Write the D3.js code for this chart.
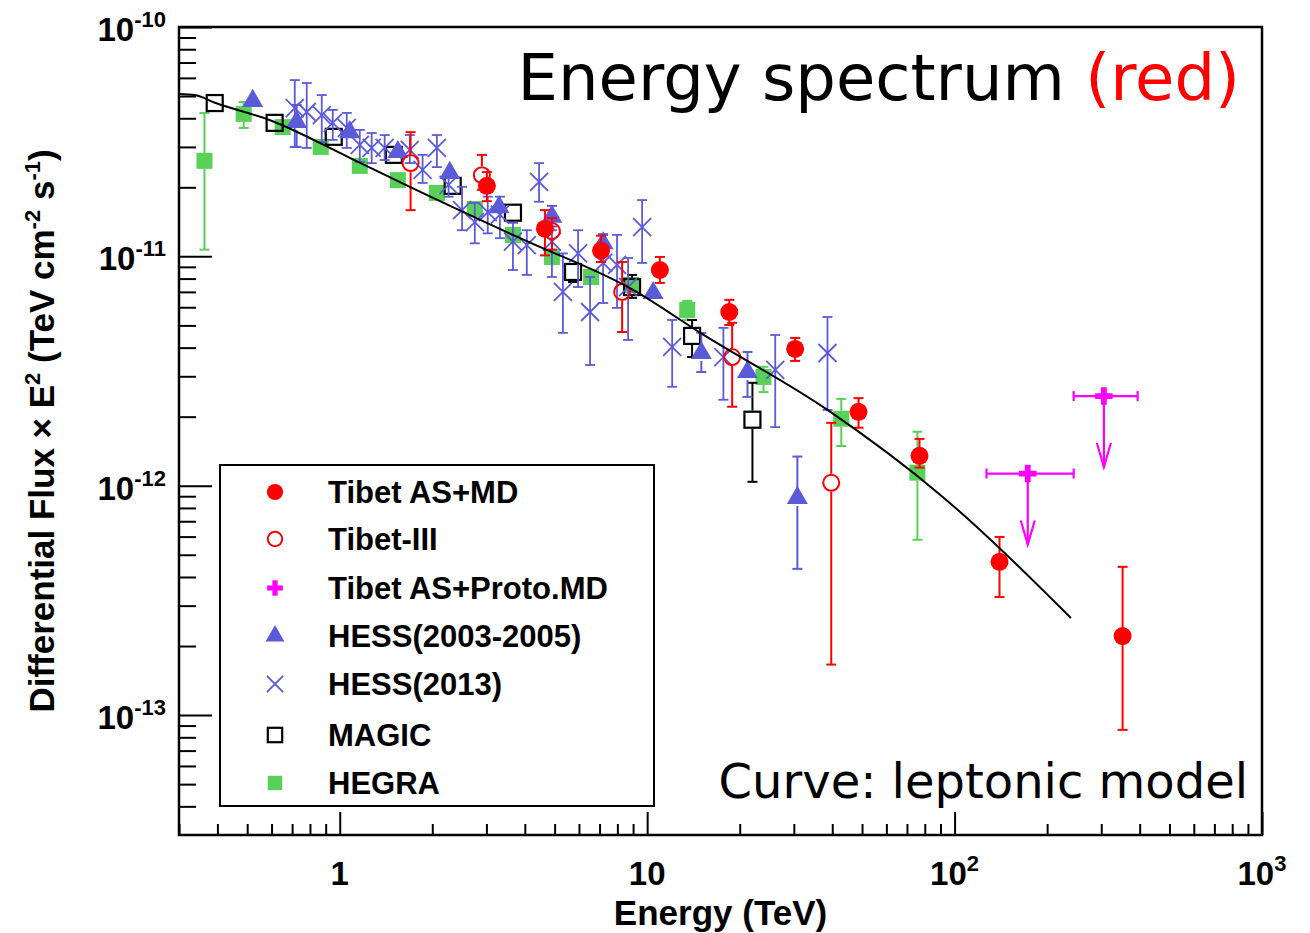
<!DOCTYPE html>
<html>
<head>
<meta charset="utf-8">
<script src="https://cdn.jsdelivr.net/npm/d3@7"></script>
<style>
  body { margin: 0; background: #fff; }
  svg { display: block; }
</style>
</head>
<body>
<div id="chart"></div>
<script>
// ---- data (energy in TeV, flux x E^2 in TeV cm^-2 s^-1) ----
// each series: E, F, error-bar top (hi) and bottom (lo)
const tibetMD_E  = [3.01, 4.65, 7.08, 11.0, 18.5, 30.3, 48.7, 76.9, 140, 352];
const tibetMD_F  = [2.03e-11, 1.32e-11, 1.06e-11, 8.72e-12, 5.72e-12, 3.95e-12, 2.10e-12, 1.35e-12, 4.66e-13, 2.21e-13];
const tibetMD_hi = [2.33e-11, 1.59e-11, 1.23e-11, 9.94e-12, 6.46e-12, 4.41e-12, 2.41e-12, 1.60e-12, 5.98e-13, 4.43e-13];
const tibetMD_lo = [1.74e-11, 1.01e-11, 9.45e-12, 7.66e-12, 5.02e-12, 3.50e-12, 1.79e-12, 1.20e-12, 3.27e-13, 8.62e-14];

const tibet3_E  = [1.70, 2.90, 4.90, 8.29, 18.9, 39.7];
const tibet3_F  = [2.55e-11, 2.26e-11, 1.29e-11, 7.00e-12, 3.64e-12, 1.03e-12];
const tibet3_hi = [3.48e-11, 2.77e-11, 1.47e-11, 9.45e-12, 5.13e-12, 1.88e-12];
const tibet3_lo = [1.59e-11, 1.95e-11, 1.07e-11, 4.68e-12, 2.21e-12, 1.66e-13];

// upper limits, with energy bin edges
const proto_E    = [173, 306];
const proto_F    = [1.13e-12, 2.46e-12];
const proto_Elo  = [127, 244];
const proto_Ehi  = [244, 394];

const hess05_E  = [0.521, 0.724, 1.078, 1.545, 2.28, 3.30, 4.90, 7.19, 10.46, 15.0, 21.2, 30.8];
const hess05_F  = [4.76e-11, 3.85e-11, 3.48e-11, 2.85e-11, 2.31e-11, 1.64e-11, 1.49e-11, 1.14e-11, 6.92e-12, 3.79e-12, 3.13e-12, 8.85e-13];
const hess05_hi = [4.76e-11, 4.57e-11, 3.48e-11, 2.85e-11, 2.31e-11, 1.64e-11, 1.66e-11, 1.25e-11, 6.92e-12, 4.64e-12, 3.83e-12, 1.34e-12];
const hess05_lo = [4.76e-11, 3.00e-11, 3.48e-11, 2.85e-11, 2.31e-11, 1.64e-11, 1.35e-11, 1.03e-11, 6.92e-12, 3.13e-12, 2.44e-12, 4.34e-13];

const hess13_E  = [0.714, 0.781, 0.874, 0.949, 1.054, 1.162, 1.27, 1.40, 1.69, 1.86, 2.07, 2.26, 2.50, 2.75, 3.03, 3.32,
                   3.66, 4.06, 4.45, 4.90, 5.32, 5.96, 6.52, 7.19, 7.98, 8.67, 9.63, 12.06, 17.7, 26.1, 38.6];
const hess13_F  = [4.43e-11, 4.26e-11, 4.13e-11, 3.82e-11, 3.63e-11, 3.06e-11, 2.97e-11, 2.97e-11, 2.91e-11, 2.38e-11, 2.97e-11,
                   2.05e-11, 1.59e-11, 1.41e-11, 1.56e-11, 1.52e-11, 1.16e-11, 1.12e-11, 2.11e-11, 1.16e-11, 7.00e-12, 1.03e-11,
                   5.72e-12, 9.36e-12, 9.18e-12, 7.35e-12, 1.34e-11, 4.03e-12, 3.64e-12, 3.20e-12, 3.79e-12];
const hess13_hi = [5.87e-11, 5.70e-11, 5.05e-11, 4.35e-11, 4.22e-11, 3.56e-11, 3.45e-11, 3.38e-11, 3.38e-11, 2.77e-11, 3.38e-11,
                   2.26e-11, 2.01e-11, 1.71e-11, 1.82e-11, 1.82e-11, 1.40e-11, 1.30e-11, 2.55e-11, 1.30e-11, 1.03e-11, 1.30e-11,
                   8.13e-12, 1.24e-11, 1.24e-11, 9.84e-12, 1.76e-11, 5.28e-12, 4.88e-12, 4.54e-12, 5.44e-12];
const hess13_lo = [3.00e-11, 2.97e-11, 3.15e-11, 3.22e-11, 2.97e-11, 2.58e-11, 2.55e-11, 2.63e-11, 2.55e-11, 2.09e-11, 2.45e-11,
                   1.82e-11, 1.30e-11, 1.14e-11, 1.26e-11, 1.20e-11, 8.72e-12, 8.30e-12, 1.73e-11, 8.13e-12, 4.64e-12, 7.35e-12,
                   3.36e-12, 6.26e-12, 5.96e-12, 4.32e-12, 9.36e-12, 2.70e-12, 2.37e-12, 1.80e-12, 2.14e-12];

const magic_E  = [0.392, 0.614, 0.956, 1.50, 2.33, 3.66, 5.74, 8.93, 14.0, 22.0];
const magic_F  = [4.66e-11, 3.82e-11, 3.32e-11, 2.77e-11, 2.03e-11, 1.55e-11, 8.55e-12, 7.35e-12, 4.50e-12, 1.94e-12];
const magic_hi = [4.66e-11, 3.82e-11, 3.32e-11, 2.77e-11, 2.03e-11, 1.55e-11, 9.18e-12, 8.30e-12, 5.28e-12, 2.81e-12];
const magic_lo = [4.66e-11, 3.82e-11, 3.32e-11, 2.77e-11, 2.03e-11, 1.55e-11, 7.73e-12, 6.59e-12, 3.64e-12, 1.04e-12];

const hegra_E  = [0.363, 0.487, 0.652, 0.867, 1.162, 1.545, 2.07, 2.75, 3.66, 4.90, 6.57, 8.87, 13.5, 23.9, 42.8, 75.7];
const hegra_F  = [2.61e-11, 4.18e-11, 3.66e-11, 3.00e-11, 2.48e-11, 2.15e-11, 1.89e-11, 1.61e-11, 1.24e-11, 9.94e-12,
                  8.13e-12, 7.50e-12, 5.84e-12, 2.98e-12, 1.96e-12, 1.14e-12];
const hegra_hi = [4.22e-11, 4.71e-11, 3.66e-11, 3.00e-11, 2.48e-11, 2.15e-11, 1.89e-11, 1.61e-11, 1.24e-11, 9.94e-12,
                  8.13e-12, 7.50e-12, 6.39e-12, 3.30e-12, 2.39e-12, 1.72e-12];
const hegra_lo = [1.07e-11, 3.63e-11, 3.66e-11, 3.00e-11, 2.48e-11, 2.15e-11, 1.89e-11, 1.61e-11, 1.24e-11, 9.94e-12,
                  8.13e-12, 7.50e-12, 5.28e-12, 2.56e-12, 1.49e-12, 5.81e-13];

// leptonic model curve
const model_E = [0.3, 0.337, 0.395, 0.591, 1.078, 1.69, 3.86, 9.00, 14.9, 38.6, 89.9, 239];
const model_F = [5.10e-11, 5.05e-11, 4.66e-11, 3.93e-11, 2.69e-11, 2.01e-11, 1.20e-11, 7.14e-12, 4.64e-12, 2.14e-12, 9.12e-13, 2.65e-13];

const xMajor = [1, 10, 100, 1000];
const xMajorLabels = [['1', ''], ['10', ''], ['10', '2'], ['10', '3']];
const yMajor = [1e-10, 1e-11, 1e-12, 1e-13];
const yMajorLabels = ['-10', '-11', '-12', '-13'];

const legendNames = ['Tibet AS+MD', 'Tibet-III', 'Tibet AS+Proto.MD', 'HESS(2003-2005)', 'HESS(2013)', 'MAGIC', 'HEGRA'];

// ---- layout ----
const W = 1310, H = 933;
const frameL = 179, frameR = 1262, frameT = 27, frameB = 835;
const RED = '#ff0000', MAG = '#ff00ff', BLUE = '#5b5bd9', GREEN = '#58d158';
const FONT = "'Liberation Sans', Arial, Helvetica, sans-serif";

const svg = d3.select('#chart').append('svg')
  .attr('width', W).attr('height', H)
  .attr('viewBox', `0 0 ${W} ${H}`);

const x = d3.scaleLog().domain([0.3, 1000]).range([frameL, frameR]);
const y = d3.scaleLog().domain([3e-14, 1e-10]).range([frameB, frameT]);

// minor ticks
const xMinor = [];
[0.1, 1, 10, 100].forEach(d => { for (let k = 2; k <= 9; k++) { const v = d * k; if (v > 0.3 && v < 1000) xMinor.push(v); } });
const yMinor = [];
[1e-14, 1e-13, 1e-12, 1e-11].forEach(d => { for (let k = 2; k <= 9; k++) { const v = d * k; if (v > 3e-14 && v < 1e-10) yMinor.push(v); } });

function styleAxis(g) {
  g.select('.domain').remove();
  g.selectAll('line').attr('stroke', '#000').attr('stroke-width', 2);
}

svg.append('g').attr('transform', `translate(0,${frameB})`)
  .call(d3.axisTop(x).tickValues(xMinor).tickSize(11).tickFormat(''))
  .call(styleAxis);
svg.append('g').attr('transform', `translate(0,${frameB})`)
  .call(d3.axisTop(x).tickValues(xMajor).tickSize(23).tickFormat(''))
  .call(styleAxis);
svg.append('g').attr('transform', `translate(${frameL},0)`)
  .call(d3.axisRight(y).tickValues(yMinor).tickSize(17).tickFormat(''))
  .call(styleAxis);
svg.append('g').attr('transform', `translate(${frameL},0)`)
  .call(d3.axisRight(y).tickValues(yMajor).tickSize(33).tickFormat(''))
  .call(styleAxis);

// tick labels
const xl = svg.append('g').attr('font-family', FONT).attr('font-weight', 'bold').attr('font-size', 33);
xMajor.forEach((v, i) => {
  const t = xl.append('text').attr('x', x(v)).attr('y', 885).attr('text-anchor', 'middle');
  t.append('tspan').text(xMajorLabels[i][0]);
  if (xMajorLabels[i][1]) t.append('tspan').attr('dy', -14).attr('font-size', 22).text(xMajorLabels[i][1]);
});
yMajor.forEach((v, i) => {
  const t = xl.append('text').attr('x', 166).attr('y', y(v) + 14).attr('text-anchor', 'end');
  t.append('tspan').text('10');
  t.append('tspan').attr('dy', -14).attr('font-size', 22).text(yMajorLabels[i]);
});

// axis titles
svg.append('text')
  .attr('x', (frameL + frameR) / 2).attr('y', 925)
  .attr('text-anchor', 'middle')
  .attr('font-family', FONT).attr('font-weight', 'bold').attr('font-size', 35)
  .text('Energy (TeV)');

const yt = svg.append('text')
  .attr('transform', `translate(54,${(frameT + frameB) / 2}) rotate(-90)`)
  .attr('text-anchor', 'middle')
  .attr('font-family', FONT).attr('font-weight', 'bold').attr('font-size', 35);
yt.append('tspan').text('Differential Flux \u00d7 E');
yt.append('tspan').attr('dy', -14).attr('font-size', 22).text('2');
yt.append('tspan').attr('dy', 14).text(' (TeV cm');
yt.append('tspan').attr('dy', -14).attr('font-size', 22).text('-2');
yt.append('tspan').attr('dy', 14).text(' s');
yt.append('tspan').attr('dy', -14).attr('font-size', 22).text('-1');
yt.append('tspan').attr('dy', 14).text(')');

// ---- marks ----
const plot = svg.append('g');

function zip(E, F, hi, lo) {
  return E.map((e, i) => ({ e, f: F[i], hi: hi ? hi[i] : F[i], lo: lo ? lo[i] : F[i] }));
}

function errorBars(data, color, gap, width) {
  const g = plot.append('g').attr('stroke', color).attr('stroke-width', width || 2).attr('fill', 'none');
  data.forEach(d => {
    const cx = x(d.e), cy = y(d.f), yh = y(d.hi), yl = y(d.lo);
    if (cy - yh > gap) {
      g.append('line').attr('x1', cx).attr('x2', cx).attr('y1', yh).attr('y2', cy - gap);
      g.append('line').attr('x1', cx - 5).attr('x2', cx + 5).attr('y1', yh).attr('y2', yh);
    }
    if (yl - cy > gap) {
      g.append('line').attr('x1', cx).attr('x2', cx).attr('y1', cy + gap).attr('y2', yl);
      g.append('line').attr('x1', cx - 5).attr('x2', cx + 5).attr('y1', yl).attr('y2', yl);
    }
  });
}

function marker(g, type, cx, cy, scale) {
  const s = scale || 1;
  if (type === 'dot') {
    g.append('circle').attr('cx', cx).attr('cy', cy).attr('r', 9 * s).attr('fill', RED);
  } else if (type === 'ring') {
    g.append('circle').attr('cx', cx).attr('cy', cy).attr('r', 8 * s).attr('fill', 'none').attr('stroke', RED).attr('stroke-width', 2);
  } else if (type === 'plus') {
    g.append('path').attr('transform', `translate(${cx},${cy})`)
      .attr('d', d3.symbol(d3.symbolCross, 170 * s * s)()).attr('fill', MAG);
  } else if (type === 'tri') {
    g.append('path').attr('transform', `translate(${cx},${cy})`)
      .attr('d', d3.symbol(d3.symbolTriangle, 190 * s * s)()).attr('fill', BLUE);
  } else if (type === 'x') {
    const r = 9 * s;
    g.append('path').attr('d', `M${cx - r},${cy - r}L${cx + r},${cy + r}M${cx - r},${cy + r}L${cx + r},${cy - r}`)
      .attr('stroke', BLUE).attr('stroke-width', 1.8).attr('fill', 'none');
  } else if (type === 'box') {
    const r = 8 * s;
    g.append('rect').attr('x', cx - r).attr('y', cy - r).attr('width', 2 * r).attr('height', 2 * r)
      .attr('fill', 'none').attr('stroke', '#000').attr('stroke-width', 2.2);
  } else if (type === 'sq') {
    const r = 8 * s;
    g.append('rect').attr('x', cx - r).attr('y', cy - r).attr('width', 2 * r).attr('height', 2 * r).attr('fill', GREEN);
  }
}

function series(data, type, color, gap, ew) {
  errorBars(data, color, gap, ew);
  const g = plot.append('g');
  data.forEach(d => marker(g, type, x(d.e), y(d.f)));
}

series(zip(hegra_E, hegra_F, hegra_hi, hegra_lo), 'sq', GREEN, 8);
series(zip(magic_E, magic_F, magic_hi, magic_lo), 'box', '#000', 9);
series(zip(hess13_E, hess13_F, hess13_hi, hess13_lo), 'x', BLUE, 0, 1.8);
series(zip(hess05_E, hess05_F, hess05_hi, hess05_lo), 'tri', BLUE, 8);
series(zip(tibet3_E, tibet3_F, tibet3_hi, tibet3_lo), 'ring', RED, 9);
series(zip(tibetMD_E, tibetMD_F, tibetMD_hi, tibetMD_lo), 'dot', RED, 0);

// upper limits (Tibet AS+Proto.MD)
const ul = plot.append('g').attr('stroke', MAG).attr('stroke-width', 2.2).attr('fill', 'none');
proto_E.forEach((e, i) => {
  const cx = x(e), cy = y(proto_F[i]), x0 = x(proto_Elo[i]), x1 = x(proto_Ehi[i]);
  ul.append('line').attr('x1', x0).attr('x2', x1).attr('y1', cy).attr('y2', cy);
  ul.append('line').attr('x1', x0).attr('x2', x0).attr('y1', cy - 5).attr('y2', cy + 5);
  ul.append('line').attr('x1', x1).attr('x2', x1).attr('y1', cy - 5).attr('y2', cy + 5);
  const tip = cy + 71;
  ul.append('line').attr('x1', cx).attr('x2', cx).attr('y1', cy).attr('y2', tip);
  ul.append('path').attr('d', `M${cx - 7},${tip - 24}L${cx},${tip}L${cx + 7},${tip - 24}`);
});
const ulm = plot.append('g');
proto_E.forEach((e, i) => marker(ulm, 'plus', x(e), y(proto_F[i])));

// model curve
const line = d3.line().x(d => x(d)).y((d, i) => y(model_F[i])).curve(d3.curveMonotoneX);
plot.append('path').datum(model_E)
  .attr('d', line)
  .attr('fill', 'none').attr('stroke', '#000').attr('stroke-width', 2);

// frame
svg.append('rect').attr('x', frameL).attr('y', frameT).attr('width', frameR - frameL).attr('height', frameB - frameT)
  .attr('fill', 'none').attr('stroke', '#000').attr('stroke-width', 2.5);

// ---- legend ----
const lg = svg.append('g');
lg.append('rect').attr('x', 220).attr('y', 465).attr('width', 434).attr('height', 341)
  .attr('fill', '#fff').attr('stroke', '#000').attr('stroke-width', 2);
const legendTypes = ['dot', 'ring', 'plus', 'tri', 'x', 'box', 'sq'];
const legendY = [492, 539, 588, 636, 684, 735, 783];
legendNames.forEach((name, i) => {
  marker(lg, legendTypes[i], 275, legendY[i], 0.9);
  lg.append('text').attr('x', 328).attr('y', legendY[i] + 11)
    .attr('font-family', FONT).attr('font-weight', 'bold').attr('font-size', 31)
    .text(name);
});

// ---- annotations ----
const title = svg.append('text')
  .attr('x', 1240).attr('y', 100).attr('text-anchor', 'end')
  .attr('font-family', "'DejaVu Sans', sans-serif").attr('font-size', 64);
title.append('tspan').attr('fill', '#000').text('Energy spectrum ');
title.append('tspan').attr('fill', RED).text('(red)');

svg.append('text')
  .attr('x', 1248).attr('y', 798).attr('text-anchor', 'end')
  .attr('font-family', "'DejaVu Sans', sans-serif").attr('font-size', 48)
  .text('Curve: leptonic model');
</script>
</body>
</html>
